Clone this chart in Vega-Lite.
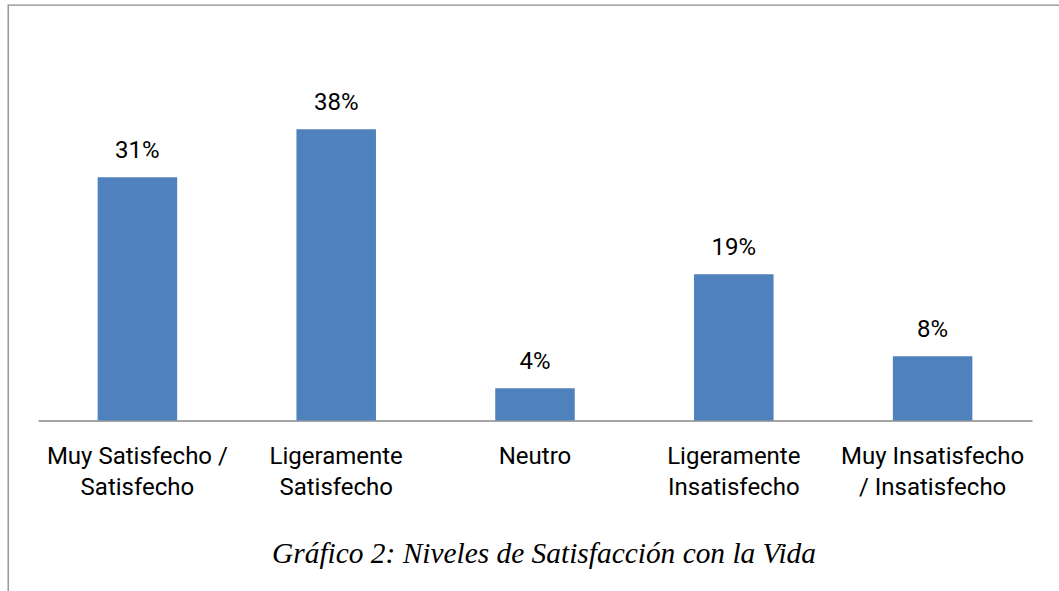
{
  "$schema": "https://vega.github.io/schema/vega-lite/v6.json",
  "width": 1061,
  "height": 596,
  "autosize": {"type": "none"},
  "padding": {"left": 8, "top": 5, "right": -10, "bottom": -10},
  "background": "white",
  "config": {"view": {"stroke": "#898989", "strokeWidth": 1.3}, "font": "Roboto"},
  "title": {
    "text": "Gráfico 2: Niveles de Satisfacción con la Vida",
    "orient": "bottom",
    "frame": "group",
    "anchor": "middle",
    "offset": -37.7,
    "baseline": "alphabetic",
    "font": "Liberation Serif",
    "fontStyle": "italic",
    "fontWeight": "normal",
    "fontSize": 29.4,
    "color": "black",
    "dx": 5.5
  },
  "data": {
    "values": [
      {"categoria": "Muy Satisfecho /\nSatisfecho", "valor": 0.314},
      {"categoria": "Ligeramente\nSatisfecho", "valor": 0.376},
      {"categoria": "Neutro", "valor": 0.0416},
      {"categoria": "Ligeramente\nInsatisfecho", "valor": 0.1888},
      {"categoria": "Muy Insatisfecho\n/ Insatisfecho", "valor": 0.0829}
    ]
  },
  "encoding": {
    "x": {
      "field": "categoria",
      "type": "nominal",
      "sort": null,
      "scale": {"range": [30, 1024], "paddingInner": 0.6, "paddingOuter": 0.3},
      "axis": {
        "title": null,
        "orient": "bottom",
        "offset": -180.5,
        "domainColor": "#878787",
        "domainWidth": 1.3,
        "ticks": false,
        "tickSize": 0,
        "labelPadding": 42.8,
        "labelBaseline": "alphabetic",
        "labelFont": "Roboto",
        "labelFontSize": 24,
        "labelColor": "black",
        "labelLineHeight": 31.7,
        "labelAngle": 0,
        "labelExpr": "split(datum.label, '\\n')",
        "labelLimit": 0,
        "labelOverlap": false,
        "grid": false
      }
    },
    "y": {
      "field": "valor",
      "type": "quantitative",
      "scale": {"domain": [0, 0.45], "range": [415.5, 67]},
      "axis": null
    }
  },
  "layer": [
    {"mark": {"type": "bar", "color": "#4F81BD"}},
    {
      "mark": {"type": "text", "baseline": "alphabetic", "dy": -19, "font": "Roboto", "fontSize": 24, "color": "black"},
      "encoding": {"text": {"field": "valor", "type": "quantitative", "format": ".0%"}}
    }
  ]
}
